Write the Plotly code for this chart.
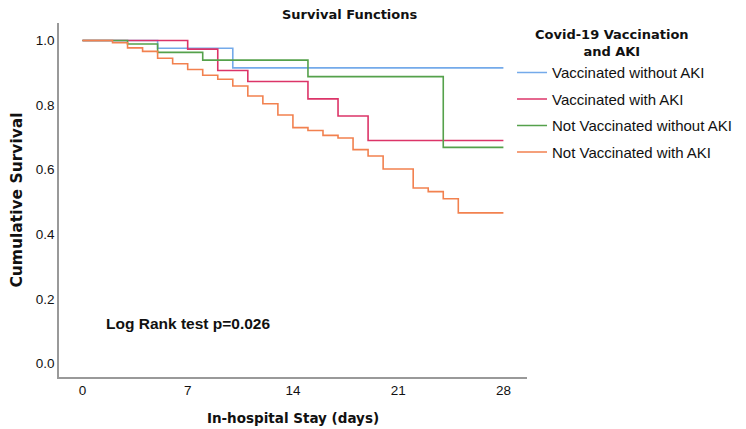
import plotly.graph_objects as go

# Data
series_names = ["Vaccinated without AKI", "Vaccinated with AKI",
                "Not Vaccinated without AKI", "Not Vaccinated with AKI"]

vacc_no_aki_t = [0, 5, 10, 28]
vacc_no_aki_s = [1.0, 0.976, 0.915, 0.915]

vacc_aki_t = [0, 7, 9, 11, 15, 17, 19, 28]
vacc_aki_s = [1.0, 0.973, 0.907, 0.873, 0.819, 0.766, 0.690, 0.690]

novacc_no_aki_t = [0, 3, 5, 8, 15, 24, 28]
novacc_no_aki_s = [1.0, 0.989, 0.963, 0.939, 0.888, 0.669, 0.669]

novacc_aki_t = [0, 2, 3, 4, 5, 6, 7, 8, 9, 10, 11, 12, 13, 14, 15, 16, 17, 18,
                19, 20, 22, 23, 24, 25, 28]
novacc_aki_s = [1.0, 0.993, 0.977, 0.966, 0.945, 0.928, 0.910, 0.892, 0.880,
                0.859, 0.828, 0.804, 0.769, 0.730, 0.721, 0.706, 0.698, 0.662,
                0.642, 0.602, 0.543, 0.532, 0.510, 0.466, 0.466]

x_ticks = [0, 7, 14, 21, 28]
y_ticks = [0.0, 0.2, 0.4, 0.6, 0.8, 1.0]

colors = ["#74AAEA", "#DC3468", "#55A14B", "#F2814F"]

times = [vacc_no_aki_t, vacc_aki_t, novacc_no_aki_t, novacc_aki_t]
survs = [vacc_no_aki_s, vacc_aki_s, novacc_no_aki_s, novacc_aki_s]

fig = go.Figure()
for i, (name, t, s, c) in enumerate(zip(series_names, times, survs, colors)):
    fig.add_trace(go.Scatter(
        x=t, y=s, mode="lines", name=name,
        line=dict(color=c, width=1.6, shape="hv"),
        legendgroup=f"g{i}",
    ))

PW = 468.2  # plot width in px
L = 50.5

fig.update_layout(
    width=738, height=421,
    margin=dict(l=L, r=219.3, t=14.7, b=52.3, autoexpand=False),
    paper_bgcolor="white", plot_bgcolor="white",
    font=dict(family="Liberation Sans, Arial, sans-serif", color="#111"),
    showlegend=True,
    legend=dict(
        x=0.968, xanchor="left", y=0.906, yanchor="top",
        font=dict(size=15, family="Liberation Sans, Arial, sans-serif", color="#111"),
        tracegroupgap=4, bgcolor="rgba(0,0,0,0)",
        itemwidth=30,
    ),
    xaxis=dict(
        range=[-1.56, 29.57], tickvals=x_ticks, ticks="", automargin=False,
        showgrid=False, zeroline=False, showline=True,
        linecolor="#999999", linewidth=1.6,
        tickfont=dict(size=13.5, color="#111"),
        title=dict(text="<b>In-hospital Stay (days)</b>",
                   font=dict(size=13.5, family="DejaVu Sans, Verdana, sans-serif", color="#111"),
                   standoff=17),
    ),
    yaxis=dict(
        range=[-0.042, 1.054], tickvals=y_ticks, tickformat=".1f", ticks="", automargin=False,
        showgrid=False, zeroline=False, showline=True,
        linecolor="#999999", linewidth=1.6,
        tickfont=dict(size=13.5, color="#111"),
        title=dict(text="<b>Cumulative Survival</b>",
                   font=dict(size=15.5, family="DejaVu Sans, Verdana, sans-serif", color="#111"),
                   standoff=10),
    ),
    annotations=[
        dict(text="<b>Survival Functions</b>", xref="paper", yref="paper",
             x=(341 - L) / PW, y=1.0, yshift=8.5, xanchor="center", yanchor="middle",
             showarrow=False,
             font=dict(size=13, family="DejaVu Sans, Verdana, sans-serif", color="#111")),
        dict(text="<b>Covid-19 Vaccination<br>and AKI</b>", xref="paper", yref="paper",
             x=(604 - L) / PW, y=1.0, yshift=-2, xanchor="center", yanchor="top",
             align="center", showarrow=False,
             font=dict(size=13, family="DejaVu Sans, Verdana, sans-serif", color="#111")),
        dict(text="<b>Log Rank test p=0.026</b>", xref="paper", yref="y",
             x=(96 - L) / PW, y=(363 - 322.7) / 323, xanchor="left", yanchor="middle",
             showarrow=False,
             font=dict(size=15.5, family="Liberation Sans, Arial, sans-serif", color="#111")),
    ],
)

fig.write_html("out.html")
